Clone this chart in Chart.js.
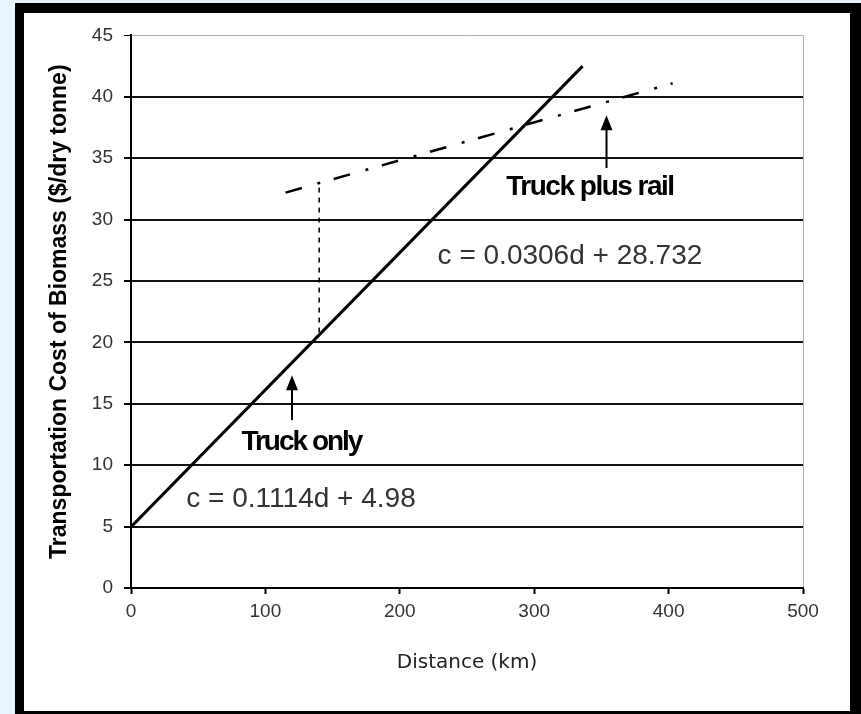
<!DOCTYPE html>
<html>
<head>
<meta charset="utf-8">
<script src="https://cdn.jsdelivr.net/npm/chart.js@4.4.1/dist/chart.umd.min.js"></script>
<style>
  html, body { margin: 0; padding: 0; background: #e8f5fd; width: 861px; height: 714px; overflow: hidden; }
  #frame { position: absolute; left: 15px; top: 3px; width: 846px; height: 711px; background: #000; }
  #inner { position: absolute; left: 24px; top: 13px; width: 826px; height: 698px; background: #fff; }
</style>
</head>
<body>
<div id="frame"></div>
<div id="inner"><canvas id="costChart"></canvas></div>
<script>
// values: distance in km, cost in $/dry tonne
const truckDistance = [0, 336];
const truckCost = [4.98, 42.5];
const railDistance = [115, 403];
const railCost = [32.2, 41.1];
const breakDistance = [140, 140];
const breakCost = [20.8, 33.0];

const distanceTicks = [0, 100, 200, 300, 400, 500];
const costTicks = [0, 5, 10, 15, 20, 25, 30, 35, 40, 45];

// text labels and arrows, placed in data units
const notes = [
    { text: 'Truck plus rail', d: 341.5, c: 31.98, font: 'bold 28px "Liberation Sans"', spacing: '-1.5px', color: '#000' },
    { text: 'Truck only', d: 126.8, c: 11.23, font: 'bold 28px "Liberation Sans"', spacing: '-2px', color: '#000' },
    { text: 'c = 0.1114d + 4.98', d: 126.5, c: 6.59, font: '28px "Liberation Sans"', spacing: '0px', color: '#333' },
    { text: 'c = 0.0306d + 28.732', d: 326.6, c: 26.36, font: '28px "Liberation Sans"', spacing: '0px', color: '#333' }
];
const arrows = [
    { d: 353.8, from: 34.2, to: 38.5 },
    { d: 119.8, from: 13.67, to: 17.33 }
];

const toPoints = (xs, ys) => xs.map((v, i) => ({ x: v, y: ys[i] }));

const notePlugin = {
    id: 'notes',
    afterDatasetsDraw(chart) {
        const { ctx, scales: { x, y } } = chart;
        ctx.save();
        arrows.forEach(a => {
            const px = x.getPixelForValue(a.d);
            const y0 = y.getPixelForValue(a.from);
            const y1 = y.getPixelForValue(a.to);
            ctx.strokeStyle = '#000';
            ctx.lineWidth = 2;
            ctx.beginPath();
            ctx.moveTo(px, y0);
            ctx.lineTo(px, y1 + 12);
            ctx.stroke();
            ctx.fillStyle = '#000';
            ctx.beginPath();
            ctx.moveTo(px, y1);
            ctx.lineTo(px - 6, y1 + 15);
            ctx.lineTo(px + 6, y1 + 15);
            ctx.closePath();
            ctx.fill();
        });
        notes.forEach(n => {
            ctx.font = n.font;
            ctx.letterSpacing = n.spacing;
            ctx.fillStyle = n.color;
            ctx.textAlign = 'center';
            ctx.textBaseline = 'alphabetic';
            ctx.fillText(n.text, x.getPixelForValue(n.d), y.getPixelForValue(n.c));
        });
        ctx.restore();
    }
};

new Chart(document.getElementById('costChart'), {
    type: 'scatter',
    data: {
        datasets: [
            {
                label: 'Truck only',
                data: toPoints(truckDistance, truckCost),
                showLine: true,
                borderColor: '#000',
                borderWidth: 3,
                pointRadius: 0
            },
            {
                label: 'Truck plus rail',
                data: toPoints(railDistance, railCost),
                showLine: true,
                borderColor: '#000',
                borderWidth: 2.5,
                borderDash: [17, 16, 3, 14],
                pointRadius: 0
            },
            {
                label: 'Break-even',
                data: toPoints(breakDistance, breakCost),
                showLine: true,
                borderColor: '#000',
                borderWidth: 1.5,
                borderDash: [5, 5],
                pointRadius: 0
            }
        ]
    },
    options: {
        responsive: true,
        maintainAspectRatio: false,
        animation: false,
        layout: { padding: { top: 22, right: 47, left: 0, bottom: 0 } },
        plugins: {
            legend: { display: false },
            tooltip: { enabled: false }
        },
        scales: {
            x: {
                type: 'linear',
                min: 0,
                max: 500,
                afterBuildTicks: s => { s.ticks = distanceTicks.map(v => ({ value: v })); },
                afterFit: s => { s.height = 123; },
                grid: {
                    color: c => c.tick && c.tick.value === 500 ? '#b0b0b0' : 'rgba(0,0,0,0)',
                    lineWidth: 1,
                    tickColor: '#000',
                    tickLength: 6,
                    tickWidth: 2
                },
                border: { color: '#000', width: 2 },
                ticks: { color: '#333', padding: 6, font: { family: '"Liberation Sans"', size: 19 } },
                title: {
                    display: true,
                    text: 'Distance (km)',
                    color: '#222',
                    font: { family: '"DejaVu Sans"', size: 20 },
                    padding: { bottom: 36 }
                }
            },
            y: {
                type: 'linear',
                min: 0,
                max: 45,
                afterBuildTicks: s => { s.ticks = costTicks.map(v => ({ value: v })); },
                afterFit: s => { s.width = 107; },
                grid: {
                    color: c => c.tick && c.tick.value === 45 ? '#b0b0b0' : '#111',
                    lineWidth: c => c.tick && c.tick.value === 45 ? 1 : 2,
                    tickColor: '#000',
                    tickLength: 7
                },
                border: { color: '#000', width: 2 },
                ticks: { color: '#333', padding: 11, font: { family: '"Liberation Sans"', size: 19 } },
                title: {
                    display: true,
                    text: 'Transportation Cost of Biomass ($/dry tonne)',
                    color: '#000',
                    font: { family: '"Liberation Sans"', size: 23, weight: 'bold' },
                    padding: { top: 22 }
                }
            }
        }
    },
    plugins: [notePlugin]
});
</script>
</body>
</html>
